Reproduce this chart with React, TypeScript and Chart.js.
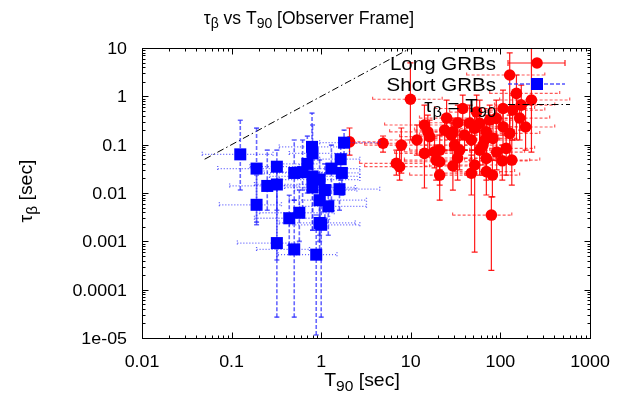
import React, { useEffect, useRef } from "react";
import { Chart, registerables } from "chart.js";

Chart.register(...registerables);

const FONT = '"Liberation Sans", Arial, Helvetica, sans-serif';

// ---- axis ticks ----
const xTickValues = [0.01, 0.1, 1, 10, 100, 1000];
const xTickLabels = ["0.01", "0.1", "1", "10", "100", "1000"];
const yTickValues = [10, 1, 0.1, 0.01, 0.001, 0.0001, 0.00001];
const yTickLabels = ["10", "1", "0.1", "0.01", "0.001", "0.0001", "1e-05"];
const minorMultipliers = [2, 3, 4, 5, 6, 7, 8, 9];

// ---- Long GRBs ----
const longT90 = [127, 9.9, 151, 222, 171, 107, 38, 137, 14.2, 15.5, 23.9, 33.5, 29.5, 51.6, 58.7, 69.7, 90, 107, 127, 47.4, 82.7, 4.9, 7.84, 14.2, 21, 35, 58.7, 116, 69.7, 6.9, 7.5, 21, 29.5, 51.6, 21, 47.4, 69.7, 81.4, 105, 79.3, 16.2, 19.2, 28.3, 75.9, 63.9, 2.07, 18.4, 39.8, 90.9, 54.3, 134, 33.3, 11.7, 25.1, 164, 66.7, 30.8, 191, 45.4];
const longT90Lo = [42, 3.75, 76, 98, 86, 45, 18.4, 67, 5.1, 5.8, 11, 12.5, 14.2, 23.9, 27.1, 35, 45.4, 51.6, 58.7, 21, 39.8, 1.6, 3.05, 6.6, 9.7, 16.2, 27.1, 58.7, 35, 2.68, 3.05, 8.5, 14.2, 23.9, 9.7, 21, 30.8, 39.8, 51.6, 29.3, 7.5, 8.5, 12.5, 35, 30.8, 1.73, 8.5, 21, 45.4, 27.1, 66.7, 16.2, 5.1, 12.5, 86, 30.8, 14.2, 98, 23.9];
const longT90Hi = [313, 22.4, 459, 594, 404, 241, 86, 313, 30.8, 35, 58.7, 75.9, 58.7, 111, 127, 144, 186, 212, 275, 98, 164, 9.7, 16.2, 30.8, 45.4, 75.9, 127, 241, 144, 14.2, 16.2, 45.4, 58.7, 111, 45.4, 98, 144, 164, 212, 134, 35, 39.8, 58.7, 164, 127, 4.48, 39.8, 75.9, 186, 111, 275, 75.9, 27.1, 51.6, 355, 144, 66.7, 404, 98];
const longTau = [2.76, 0.87, 1.15, 0.84, 0.66, 0.56, 0.56, 0.52, 0.255, 0.184, 0.2, 0.284, 0.184, 0.218, 0.276, 0.184, 0.35, 0.235, 0.171, 0.125, 0.135, 0.107, 0.098, 0.066, 0.077, 0.077, 0.077, 0.084, 0.052, 0.041, 0.035, 0.0443, 0.0362, 0.038, 0.0235, 0.0257, 0.0277, 0.0235, 0.0464, 0.0035, 0.146, 0.048, 0.158, 0.323, 0.098, 0.114, 0.071, 0.158, 0.07, 0.473, 0.048, 0.053, 0.125, 0.355, 0.355, 0.125, 0.098, 0.232, 0.28];
const longTauLo = [0.2, 0.125, 0.125, 0.07, 0.2, 0.158, 0.255, 0.125, 0.077, 0.077, 0.077, 0.125, 0.085, 0.077, 0.098, 0.061, 0.125, 0.077, 0.048, 0.048, 0.048, 0.07, 0.0258, 0.0127, 0.03, 0.03, 0.0235, 0.0235, 0.0185, 0.0235, 0.0185, 0.0146, 0.0115, 0.0006, 0.0071, 0.0091, 0.0091, 0.0083, 0.0185, 0.00025, 0.061, 0.0185, 0.077, 0.125, 0.038, 0.061, 0.033, 0.077, 0.03, 0.2, 0.0146, 0.0185, 0.061, 0.158, 0.125, 0.048, 0.038, 0.077, 0.125];
const longTauHi = [7.9, 4.9, 2.76, 10.5, 1.71, 1.35, 1.06, 1.06, 0.66, 0.41, 0.41, 0.66, 0.355, 0.52, 0.838, 0.41, 0.838, 0.52, 0.41, 0.255, 0.323, 0.151, 0.221, 0.2, 0.158, 0.158, 0.2, 0.255, 0.125, 0.077, 0.077, 0.098, 0.077, 0.077, 0.048, 0.061, 0.061, 0.048, 0.098, 0.0083, 0.323, 0.098, 0.323, 0.66, 0.2, 0.221, 0.137, 0.323, 0.158, 1.06, 0.125, 0.125, 0.255, 0.838, 0.838, 0.255, 0.2, 0.66, 0.66];

// ---- Short GRBs ----
const shortT90 = [0.125, 0.19, 0.32, 0.25, 0.32, 0.19, 0.5, 0.62, 0.79, 0.8, 0.8, 0.96, 0.8, 1.3, 1.7, 1.65, 1.8, 1.6, 0.96, 1.2, 0.57, 0.44, 0.96, 1.0, 0.32, 0.5, 0.88, 0.7, 1.1];
const shortT90Lo = [0.047, 0.07, 0.16, 0.095, 0.18, 0.073, 0.23, 0.32, 0.34, 0.44, 0.265, 0.34, 0.39, 0.57, 0.74, 0.96, 0.96, 0.65, 0.44, 0.57, 0.205, 0.18, 0.34, 0.44, 0.116, 0.19, 0.33, 0.3, 0.5];
const shortT90Hi = [0.29, 0.29, 0.57, 0.57, 0.96, 0.36, 1.6, 1.8, 1.8, 2.07, 2.7, 2.7, 2.4, 2.7, 2.7, 2.7, 4.5, 4.5, 3.2, 3.2, 1.4, 1.24, 2.4, 2.7, 0.57, 0.74, 1.5, 1.5, 2.5];
const shortTau = [0.063, 0.032, 0.035, 0.014, 0.015, 0.0057, 0.026, 0.027, 0.09, 0.066, 0.022, 0.019, 0.013, 0.032, 0.026, 0.05, 0.11, 0.012, 0.0071, 0.0053, 0.0039, 0.003, 0.0024, 0.0022, 0.00092, 0.00068, 0.00053, 0.04, 0.0115];
const shortTauLo = [0.0115, 0.0025, 0.0044, 0.0044, 0.00041, 0.0022, 0.0071, 0.0035, 0.0235, 0.0115, 0.0017, 0.001, 0.0017, 0.0071, 0.009, 0.0185, 0.061, 0.0044, 0.00134, 0.00134, 0.001, 0.00083, 0.00052, 0.000027, 0.000027, 0.000027, 0.0000115, 0.01, 0.003];
const shortTauHi = [0.32, 0.22, 0.077, 0.077, 0.038, 0.0235, 0.125, 0.125, 0.45, 0.255, 0.077, 0.048, 0.048, 0.098, 0.061, 0.125, 0.2, 0.03, 0.0185, 0.0146, 0.0115, 0.009, 0.0056, 0.0056, 0.0185, 0.0071, 0.0035, 0.15, 0.04];

// ---- reference line tau = T90 ----
const lineT90 = [0.05, 10];
const lineTau = [0.05, 10];

type Seg = { t: string; sub?: boolean };

function drawRich(
  ctx: CanvasRenderingContext2D,
  segs: Seg[],
  x: number,
  y: number,
  size: number,
  align: "left" | "center" | "right",
  sx = 1
) {
  ctx.save();
  ctx.translate(x, y);
  ctx.scale(sx, 1);
  ctx.textBaseline = "alphabetic";
  ctx.textAlign = "left";
  let w = 0;
  const widths: number[] = [];
  for (const s of segs) {
    ctx.font = `${s.sub ? size * 0.8 : size}px ${FONT}`;
    const m = ctx.measureText(s.t).width;
    widths.push(m);
    w += m;
  }
  let cx = align === "left" ? 0 : align === "center" ? -w / 2 : -w;
  segs.forEach((s, i) => {
    ctx.font = `${s.sub ? size * 0.8 : size}px ${FONT}`;
    ctx.fillText(s.t, cx, s.sub ? size * 0.27 : 0);
    cx += widths[i];
  });
  ctx.restore();
}

type ErrStyle = {
  vColor: string;
  vDash: number[];
  vWidth: number;
  vCap: number;
  hColor: string;
  hDash: number[];
  hWidth: number;
  hCap: number;
};

const errSets: Record<string, { t: number[]; tl: number[]; th: number[]; y: number[]; yl: number[]; yh: number[]; st: ErrStyle }> = {
  long: {
    t: longT90, tl: longT90Lo, th: longT90Hi, y: longTau, yl: longTauLo, yh: longTauHi,
    st: { vColor: "rgba(255,0,0,0.9)", vDash: [], vWidth: 1.2, vCap: 3, hColor: "rgba(255,0,0,0.65)", hDash: [3, 2], hWidth: 1.2, hCap: 2.5 },
  },
  short: {
    t: shortT90, tl: shortT90Lo, th: shortT90Hi, y: shortTau, yl: shortTauLo, yh: shortTauHi,
    st: { vColor: "rgba(40,40,255,0.7)", vDash: [4, 2], vWidth: 1.6, vCap: 2.5, hColor: "rgba(40,40,255,0.75)", hDash: [1, 2], hWidth: 1.3, hCap: 2.5 },
  },
};

const errorBarPlugin = {
  id: "errbars",
  beforeDatasetDraw(chart: any, args: any) {
    const ds = chart.data.datasets[args.index];
    const set = errSets[ds.errKey];
    if (!set) return;
    const { ctx, chartArea } = chart;
    const xs = chart.scales.x;
    const ys = chart.scales.y;
    const st = set.st;
    ctx.save();
    ctx.beginPath();
    ctx.rect(chartArea.left, chartArea.top, chartArea.right - chartArea.left, chartArea.bottom - chartArea.top);
    ctx.clip();
    for (let i = 0; i < set.t.length; i++) {
      const px = xs.getPixelForValue(set.t[i]);
      const py = ys.getPixelForValue(set.y[i]);
      const x0 = xs.getPixelForValue(set.tl[i]);
      const x1 = xs.getPixelForValue(set.th[i]);
      const y0 = ys.getPixelForValue(set.yl[i]);
      const y1 = ys.getPixelForValue(set.yh[i]);
      // horizontal
      ctx.strokeStyle = st.hColor;
      ctx.lineWidth = st.hWidth;
      ctx.setLineDash(st.hDash);
      ctx.beginPath();
      ctx.moveTo(x0, py);
      ctx.lineTo(x1, py);
      ctx.moveTo(x0, py - st.hCap);
      ctx.lineTo(x0, py + st.hCap);
      ctx.moveTo(x1, py - st.hCap);
      ctx.lineTo(x1, py + st.hCap);
      ctx.stroke();
      // vertical
      ctx.strokeStyle = st.vColor;
      ctx.lineWidth = st.vWidth;
      ctx.setLineDash(st.vDash);
      ctx.beginPath();
      ctx.moveTo(px, y0);
      ctx.lineTo(px, y1);
      ctx.stroke();
      ctx.setLineDash([]);
      ctx.beginPath();
      ctx.moveTo(px - st.vCap, y0);
      ctx.lineTo(px + st.vCap, y0);
      ctx.moveTo(px - st.vCap, y1);
      ctx.lineTo(px + st.vCap, y1);
      ctx.stroke();
    }
    ctx.restore();
  },
};

const framePlugin = {
  id: "frameText",
  afterDraw(chart: any) {
    const { ctx, chartArea } = chart;
    const xs = chart.scales.x;
    const ys = chart.scales.y;
    const L = Math.round(chartArea.left) + 0.5;
    const R = Math.round(chartArea.right) + 0.5;
    const T = Math.round(chartArea.top) + 0.5;
    const B = Math.round(chartArea.bottom) + 0.5;
    ctx.save();
    ctx.strokeStyle = "#000";
    ctx.lineWidth = 1;
    ctx.setLineDash([]);
    ctx.strokeRect(L, T, R - L, B - T);
    const major = 6;
    const minor = 3;
    ctx.beginPath();
    // x ticks
    for (let d = 0; d < xTickValues.length; d++) {
      const v = xTickValues[d];
      const p = Math.round(xs.getPixelForValue(v)) + 0.5;
      ctx.moveTo(p, B); ctx.lineTo(p, B - major);
      ctx.moveTo(p, T); ctx.lineTo(p, T + major);
      if (d < xTickValues.length - 1) {
        for (const m of minorMultipliers) {
          const q = Math.round(xs.getPixelForValue(v * m)) + 0.5;
          ctx.moveTo(q, B); ctx.lineTo(q, B - minor);
          ctx.moveTo(q, T); ctx.lineTo(q, T + minor);
        }
      }
    }
    // y ticks
    for (let d = 0; d < yTickValues.length; d++) {
      const v = yTickValues[d];
      const p = Math.round(ys.getPixelForValue(v)) + 0.5;
      ctx.moveTo(L, p); ctx.lineTo(L + major, p);
      ctx.moveTo(R, p); ctx.lineTo(R - major, p);
      if (d > 0) {
        for (const m of minorMultipliers) {
          const q = Math.round(ys.getPixelForValue(v * m)) + 0.5;
          ctx.moveTo(L, q); ctx.lineTo(L + minor, q);
          ctx.moveTo(R, q); ctx.lineTo(R - minor, q);
        }
      }
    }
    ctx.stroke();

    ctx.fillStyle = "#000";
    const tickSize = 17;
    xTickValues.forEach((v, i) => {
      drawRich(ctx, [{ t: xTickLabels[i] }], xs.getPixelForValue(v), 367, tickSize, "center", 1.05);
    });
    yTickValues.forEach((v, i) => {
      drawRich(ctx, [{ t: yTickLabels[i] }], 127, ys.getPixelForValue(v) + 6, tickSize, "right", 1.05);
    });

    // title
    drawRich(ctx, [{ t: "τ" }, { t: "β", sub: true }, { t: " vs T" }, { t: "90", sub: true }, { t: " [Observer Frame]" }], 309, 23.5, 17.5, "center", 1.0);
    // x title
    drawRich(ctx, [{ t: "T" }, { t: "90", sub: true }, { t: " [sec]" }], 362, 386, 18.5, "center", 1.05);
    // y title
    ctx.save();
    ctx.translate(32, 191);
    ctx.rotate(-Math.PI / 2);
    drawRich(ctx, [{ t: "τ" }, { t: "β", sub: true }, { t: " [sec]" }], 0, 0, 18.5, "center", 1.05);
    ctx.restore();

    // legend
    const lx0 = 508, lx1 = 565, lxp = 537;
    const legSize = 19;
    drawRich(ctx, [{ t: "Long GRBs" }], 496, 69.5, legSize, "right", 1.08);
    drawRich(ctx, [{ t: "Short GRBs" }], 496, 90.5, legSize, "right", 1.08);
    drawRich(ctx, [{ t: "τ" }, { t: "β", sub: true }, { t: " = T" }, { t: "90", sub: true }], 496, 111.5, legSize, "right", 1.08);

    // Long sample
    let yy = 63;
    ctx.strokeStyle = "rgba(255,0,0,0.9)";
    ctx.lineWidth = 1.2;
    ctx.beginPath();
    ctx.moveTo(lx0, yy); ctx.lineTo(lx1, yy);
    ctx.moveTo(lx0, yy - 3); ctx.lineTo(lx0, yy + 3);
    ctx.moveTo(lx1, yy - 3); ctx.lineTo(lx1, yy + 3);
    ctx.stroke();
    ctx.fillStyle = "#ff0000";
    ctx.beginPath();
    ctx.arc(lxp, yy, 5.8, 0, Math.PI * 2);
    ctx.fill();
    // Short sample
    yy = 84;
    ctx.strokeStyle = "rgba(40,40,255,0.8)";
    ctx.lineWidth = 1.5;
    ctx.setLineDash([4, 2]);
    ctx.beginPath();
    ctx.moveTo(lx0, yy); ctx.lineTo(lx1, yy);
    ctx.stroke();
    ctx.setLineDash([]);
    ctx.fillStyle = "#0000ff";
    ctx.fillRect(lxp - 6, yy - 6, 12, 12);
    // line sample
    yy = 104.5;
    ctx.strokeStyle = "#000";
    ctx.lineWidth = 1;
    ctx.setLineDash([7, 3, 1.5, 3]);
    ctx.beginPath();
    ctx.moveTo(lx0, yy); ctx.lineTo(lx1 + 5, yy);
    ctx.stroke();
    ctx.setLineDash([]);
    ctx.restore();
  },
};

export default function App() {
  const ref = useRef<HTMLCanvasElement>(null);
  useEffect(() => {
    const canvas = ref.current!;
    const longData = longT90.map((t, i) => ({ x: t, y: longTau[i] }));
    const shortData = shortT90.map((t, i) => ({ x: t, y: shortTau[i] }));
    const lineData = lineT90.map((t, i) => ({ x: t, y: lineTau[i] }));
    const chart = new Chart(canvas, {
      type: "scatter",
      data: {
        datasets: [
          {
            label: "Short GRBs",
            data: shortData,
            pointStyle: "rect",
            pointRadius: 8.5,
            backgroundColor: "#0000ff",
            borderWidth: 0,
            errKey: "short",
          } as any,
          {
            label: "Long GRBs",
            data: longData,
            pointStyle: "circle",
            pointRadius: 5.8,
            backgroundColor: "#ff0000",
            borderWidth: 0,
            errKey: "long",
          } as any,
          {
            label: "τβ = T90",
            data: lineData,
            showLine: true,
            pointRadius: 0,
            borderColor: "#000",
            borderWidth: 1,
            borderDash: [7, 3, 1.5, 3],
            fill: false,
          } as any,
        ],
      },
      options: {
        animation: false,
        responsive: false,
        devicePixelRatio: 1,
        events: [],
        layout: { padding: { top: 48, right: 29, left: 0, bottom: 0 } },
        plugins: { legend: { display: false }, title: { display: false }, tooltip: { enabled: false } },
        scales: {
          x: {
            type: "logarithmic",
            min: 0.01,
            max: 1000,
            grid: { display: false, drawTicks: false },
            border: { display: false },
            ticks: { display: false },
            afterFit: (s: any) => { s.height = 66; },
          },
          y: {
            type: "logarithmic",
            min: 0.00001,
            max: 10,
            grid: { display: false, drawTicks: false },
            border: { display: false },
            ticks: { display: false },
            afterFit: (s: any) => { s.width = 142; },
          },
        },
      } as any,
      plugins: [errorBarPlugin, framePlugin],
    });
    return () => chart.destroy();
  }, []);
  return (
    <div style={{ position: "fixed", left: 0, top: 0, width: 619, height: 404, background: "#fff" }}>
      <canvas ref={ref} width={619} height={404} style={{ display: "block", width: 619, height: 404 }} />
    </div>
  );
}
